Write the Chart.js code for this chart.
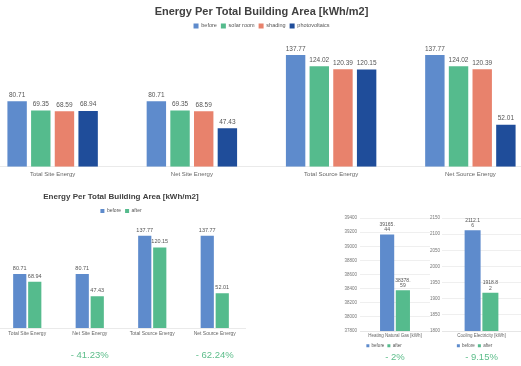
<!DOCTYPE html>
<html>
<head>
<meta charset="utf-8">
<script src="https://cdn.jsdelivr.net/npm/chart.js@4.4.1/dist/chart.umd.min.js"></script>
<style>
  html, body { margin: 0; padding: 0; background: #fff; }
  body { width: 521px; height: 366px; position: relative; overflow: hidden; }
  canvas { position: absolute; }
</style>
</head>
<body>
<canvas id="all-chart" width="557" height="185" style="left:-17px;top:0px"></canvas>
<canvas id="pv-chart" width="250" height="181" style="left:-4px;top:185px"></canvas>
<canvas id="heating-chart" width="92" height="161" style="left:338px;top:205px"></canvas>
<canvas id="cooling-chart" width="93" height="161" style="left:428px;top:205px"></canvas>
<script>
// data
const categories = ['Total Site Energy', 'Net Site Energy', 'Total Source Energy', 'Net Source Energy'];
const before = [80.71, 80.71, 137.77, 137.77];
const solarRoom = [69.35, 69.35, 124.02, 124.02];
const shading = [68.59, 68.59, 120.39, 120.39];
const photovoltaics = [68.94, 47.43, 120.15, 52.01];
const after = [68.94, 47.43, 120.15, 52.01];
const savings = ['', '- 41.23%', '', '- 62.24%'];

const heatingCategory = ['Heating Natural Gas [kWh]'];
const heatingBefore = [39165.44];
const heatingAfter = [38378.59];
const heatingTicks = [37800, 38000, 38200, 38400, 38600, 38800, 39000, 39200, 39400];
const heatingSaving = ['- 2%'];

const coolingCategory = ['Cooling Electricity [kWh]'];
const coolingBefore = [2112.16];
const coolingAfter = [1918.82];
const coolingTicks = [1800, 1850, 1900, 1950, 2000, 2050, 2100, 2150];
const coolingSaving = ['- 9.15%'];

const FONT = '"Liberation Sans", Arial, sans-serif';
const BLUE = '#5e8bcc';
const GREEN = '#55bb8d';
const SALMON = '#e8826c';
const NAVY = '#1f4d9a';

Chart.defaults.font.family = FONT;
Chart.defaults.color = '#666';

// value above each bar, optionally wrapped every n characters
const valueLabels = {
    id: 'valueLabels',
    afterDatasetsDraw(chart, args, opts) {
        const ctx = chart.ctx;
        ctx.save();
        ctx.font = opts.size + 'px ' + FONT;
        ctx.fillStyle = '#555';
        ctx.textAlign = 'center';
        ctx.textBaseline = 'bottom';
        chart.data.datasets.forEach((ds, i) => {
            chart.getDatasetMeta(i).data.forEach((bar, j) => {
                const txt = ds.data[j].toFixed(2);
                const lines = [];
                if (opts.wrap) {
                    for (let k = 0; k < txt.length; k += opts.wrap) lines.push(txt.slice(k, k + opts.wrap));
                } else {
                    lines.push(txt);
                }
                lines.forEach((ln, k) => {
                    ctx.fillText(ln, bar.x, bar.y - opts.gap - (lines.length - 1 - k) * opts.lineHeight);
                });
            });
        });
        ctx.restore();
    }
};

// green saving percentages under the categories
const savingNotes = {
    id: 'savingNotes',
    afterDraw(chart, args, opts) {
        const ctx = chart.ctx;
        const x = chart.scales.x;
        ctx.save();
        ctx.font = opts.size + 'px ' + FONT;
        ctx.fillStyle = '#5cbd8a';
        ctx.textAlign = 'center';
        ctx.textBaseline = 'middle';
        opts.texts.forEach((t, j) => {
            if (t) ctx.fillText(t, x.getPixelForValue(j), chart.height - opts.bottom);
        });
        ctx.restore();
    }
};

function barSet(label, data, color) {
    return { label: label, data: data, backgroundColor: color, borderWidth: 0 };
}

// top: all four scenarios
new Chart(document.getElementById('all-chart'), {
    type: 'bar',
    data: {
        labels: categories,
        datasets: [
            barSet('before', before, BLUE),
            barSet('solar room', solarRoom, GREEN),
            barSet('shading', shading, SALMON),
            barSet('photovoltaics', photovoltaics, NAVY)
        ]
    },
    options: {
        responsive: false,
        animation: false,
        categoryPercentage: 0.68,
        barPercentage: 0.82,
        layout: { padding: { top: 0, bottom: 3 } },
        plugins: {
            title: {
                display: true,
                text: 'Energy Per Total Building Area [kWh/m2]',
                color: '#404040',
                font: { size: 11, weight: 'bold' },
                padding: { top: 5, bottom: 1 }
            },
            legend: {
                labels: { boxWidth: 5, boxHeight: 5, padding: 4, font: { size: 5.5 }, color: '#555' }
            },
            tooltip: { enabled: false },
            valueLabels: { size: 6.5, gap: 3, lineHeight: 6 }
        },
        scales: {
            x: {
                grid: { display: false, drawTicks: false },
                border: { color: '#eaeaea' },
                ticks: { font: { size: 6 }, color: '#666', padding: 4 }
            },
            y: { display: false, min: 0, max: 158 }
        }
    },
    plugins: [valueLabels]
});

// bottom left: before vs after
new Chart(document.getElementById('pv-chart'), {
    type: 'bar',
    data: {
        labels: categories,
        datasets: [
            barSet('before', before, BLUE),
            barSet('after', after, GREEN)
        ]
    },
    options: {
        responsive: false,
        animation: false,
        categoryPercentage: 0.48,
        barPercentage: 0.88,
        layout: { padding: { top: 0, bottom: 26 } },
        plugins: {
            title: {
                display: true,
                text: 'Energy Per Total Building Area [kWh/m2]',
                color: '#404040',
                font: { size: 8, weight: 'bold' },
                padding: { top: 7, bottom: 3 }
            },
            legend: {
                labels: { boxWidth: 4, boxHeight: 4, padding: 4, font: { size: 5 }, color: '#555' }
            },
            tooltip: { enabled: false },
            valueLabels: { size: 5.5, gap: 3, lineHeight: 6 },
            savingNotes: { texts: savings, size: 9.5, bottom: 11 }
        },
        scales: {
            x: {
                grid: { display: false, drawTicks: false },
                border: { color: '#eaeaea' },
                ticks: { font: { size: 5 }, color: '#666', padding: 3 }
            },
            y: { display: false, min: 0, max: 156 }
        }
    },
    plugins: [valueLabels, savingNotes]
});

function smallChart(id, category, b, a, ticks, saving, yWidth, yPad) {
    new Chart(document.getElementById(id), {
        type: 'bar',
        data: {
            labels: category,
            datasets: [
                barSet('before', b, BLUE),
                barSet('after', a, GREEN)
            ]
        },
        options: {
            responsive: false,
            animation: false,
            categoryPercentage: 0.45,
            barPercentage: 0.9,
            layout: { padding: { top: 13, bottom: 8, right: 0 } },
            plugins: {
                legend: {
                    position: 'bottom',
                    labels: { boxWidth: 3, boxHeight: 3, padding: 3, font: { size: 4.5 }, color: '#555' }
                },
                tooltip: { enabled: false },
                valueLabels: { size: 5, gap: 2, lineHeight: 5.5, wrap: 6 },
                savingNotes: { texts: saving, size: 9.5, bottom: 9 }
            },
            scales: {
                x: {
                    grid: { display: false, drawTicks: false },
                    border: { color: '#e6e6e6' },
                    ticks: { font: { size: 4.5 }, color: '#666', padding: 2 }
                },
                y: {
                    min: ticks[0],
                    max: ticks[ticks.length - 1],
                    afterBuildTicks: s => { s.ticks = ticks.map(v => ({ value: v })); },
                    afterFit: s => { s.width = yWidth; },
                    grid: { color: '#efefef', drawTicks: false },
                    border: { display: false },
                    ticks: { font: { size: 4.5 }, color: '#777', padding: yPad, callback: v => String(v) }
                }
            }
        },
        plugins: [valueLabels, savingNotes]
    });
}

smallChart('heating-chart', heatingCategory, heatingBefore, heatingAfter, heatingTicks, heatingSaving, 22, 3);
smallChart('cooling-chart', coolingCategory, coolingBefore, coolingAfter, coolingTicks, coolingSaving, 14, 2);
</script>
</body>
</html>
